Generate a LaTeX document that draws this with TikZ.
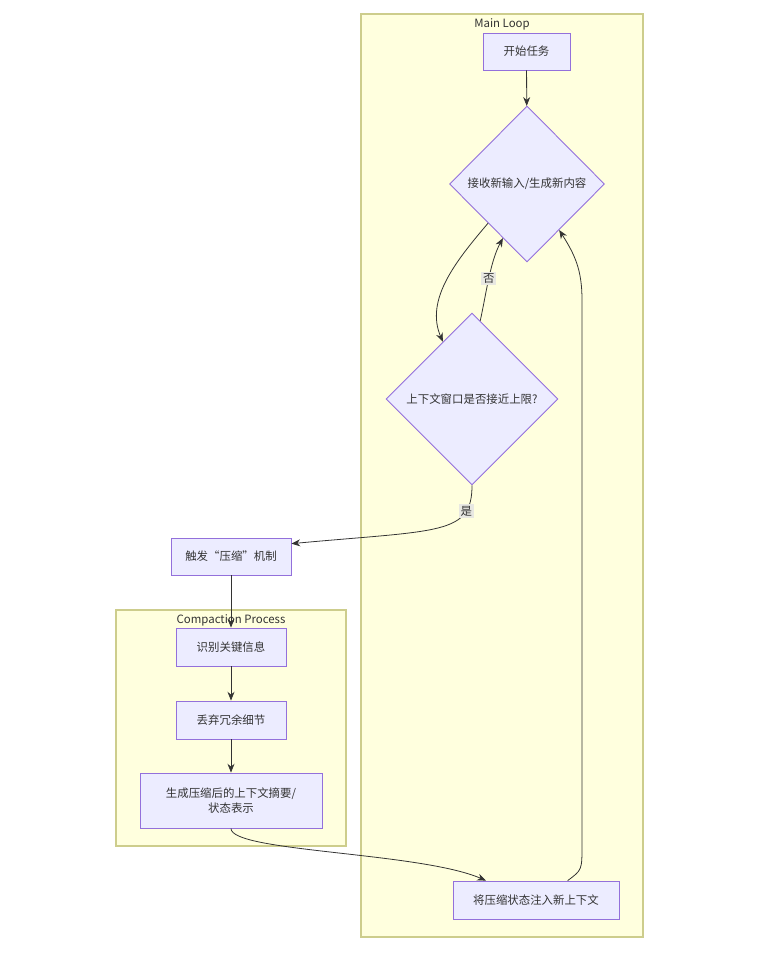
\documentclass[tikz,border=0pt]{standalone}
\usepackage{fontspec}
\setmainfont{Noto Sans CJK SC}
\usetikzlibrary{arrows.meta,positioning,calc,shapes.geometric}
\definecolor{boxA}{RGB}{236,236,255}
\definecolor{boxLine}{RGB}{147,112,219}
\definecolor{groupA}{RGB}{255,255,222}
\definecolor{groupLine}{RGB}{205,205,140}
\definecolor{edgeA}{RGB}{51,51,51}
\definecolor{lblA}{RGB}{232,232,226}

\begin{document}
\begin{tikzpicture}[x=0.02cm,y=-0.02cm,
  every node/.style={font=\fontsize{6.5}{8.8}\selectfont,text=edgeA},
  proc/.style={draw=boxLine,fill=boxA,line width=0.5pt,inner sep=0pt,align=center},
  choice/.style={diamond,draw=boxLine,fill=boxA,line width=0.5pt,inner sep=0pt,aspect=1},
  group/.style={draw=groupLine,fill=groupA,line width=0.6pt},
  flow/.style={draw=edgeA,line width=0.45pt,-{Stealth[length=5pt,width=4pt]}},
  lbl/.style={fill=lblA,inner sep=1pt}]
  \useasboundingbox (0,0) rectangle (760,953);
  \draw[group] (361,14) rectangle (643,937);
  \node (mainT) at (502,24) {Main Loop};
  \draw[group] (116,610) rectangle (346,846);
  \node (compT) at (231,620) {Compaction Process};

  \node[proc,minimum width=1.74cm,minimum height=0.74cm] (start) at (526.5,51.5) {开始任务};
  \node[choice,minimum width=3.1cm,minimum height=3.12cm] (recv) at (527,184) {接收新输入/生成新内容};
  \node[choice,minimum width=3.44cm,minimum height=3.44cm] (check) at (472,399) {上下文窗口是否接近上限?};
  \node[proc,minimum width=2.4cm,minimum height=0.74cm] (trig) at (231,556.5) {触发“压缩”机制};
  \node[proc,minimum width=2.2cm,minimum height=0.76cm] (ident) at (231,647) {识别关键信息};
  \node[proc,minimum width=2.2cm,minimum height=0.76cm] (drop) at (231,720) {丢弃冗余细节};
  \node[proc,minimum width=3.64cm,minimum height=1.1cm] (gen) at (231,800.5) {生成压缩后的上下文摘要/\\状态表示};
  \node[proc,minimum width=3.32cm,minimum height=0.76cm] (inj) at (536,900) {将压缩状态注入新上下文};

  \draw[flow] (start) -- (recv);
  \draw[flow] (recv.south west) .. controls (455,262) and (425,300) .. (check.117);
  \draw[flow] (check.84) .. controls (486,295) and (490,262) .. node[lbl,pos=0.5] (no) {否} (recv.246);
  \draw[flow] (check.south) .. controls (472,535) and (440,530) .. node[lbl,pos=0.22] (yes) {是} (trig.12);
  \draw[flow] (trig) -- (ident);
  \draw[flow] (ident) -- (drop);
  \draw[flow] (drop) -- (gen);
  \draw[flow] (gen.south) .. controls (231,852) and (420,852) .. ($(inj.north west)!0.2!(inj.north east)$);
  \draw[flow] ($(inj.north west)!0.69!(inj.north east)$) .. controls (582,870) .. (582,845) -- (582,300) .. controls (582,270) and (575,255) .. (recv.-55);
\end{tikzpicture}
\end{document}
